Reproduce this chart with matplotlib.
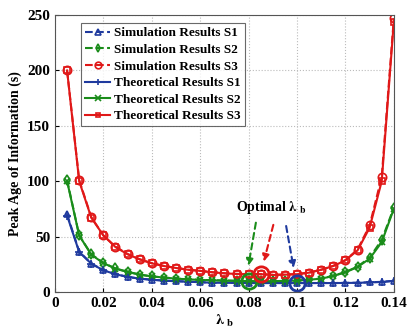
import matplotlib
matplotlib.use('Agg')
import matplotlib.pyplot as plt
import numpy as np

plt.rcParams['font.family'] = ['Liberation Serif', 'DejaVu Serif']
plt.rcParams['font.weight'] = 'bold'
plt.rcParams['mathtext.fontset'] = 'stix'

lam = [0.005, 0.01, 0.015, 0.02, 0.025, 0.03, 0.035, 0.04, 0.045, 0.05,
       0.055, 0.06, 0.065, 0.07, 0.075, 0.08, 0.085, 0.09, 0.095, 0.1,
       0.105, 0.11, 0.115, 0.12, 0.125, 0.13, 0.135, 0.14]

theo_s1 = [69, 36, 25.5, 19.5, 16, 13.5, 12, 11, 10.2, 9.6,
           9.3, 8.7, 8.3, 8.2, 8.1, 8.0, 8.0, 8.0, 8.0, 8.0,
           8.0, 8.0, 8.0, 8.1, 8.2, 8.6, 9.0, 10]
theo_s2 = [100, 51, 33.6, 26, 21, 18, 15.6, 14, 13, 12,
           11.4, 10.8, 10.5, 10.2, 10, 9.6, 9.6, 9.6, 10, 10.2,
           11, 12, 14.4, 17.7, 22.5, 30, 45, 75]
theo_s3 = [200, 100, 67, 51, 40.5, 34, 29.4, 25.8, 23.4, 21.6,
           20, 19, 17.7, 16.8, 16.2, 16, 16, 15.3, 15.6, 16,
           17.4, 20, 23.4, 28.5, 37.5, 58, 100, 244]

sim_s1 = [70, 36.5, 25.5, 19.8, 16.2, 13.6, 12, 11, 10.3, 9.7,
          9.3, 8.8, 8.4, 8.2, 8.1, 8.1, 8.0, 8.1, 8.0, 8.1,
          8.0, 8.1, 8.0, 8.2, 8.3, 8.7, 9.1, 10]
sim_s2 = [101, 51, 34, 26.2, 21.2, 18.2, 15.7, 14, 13, 12.1,
          11.5, 10.9, 10.5, 10.3, 10, 9.7, 9.6, 9.7, 10, 10.3,
          11.1, 12.1, 14.6, 18, 22.8, 31, 47, 76]
sim_s3 = [200, 101, 67.5, 51, 40.8, 34.3, 29.5, 26, 23.5, 21.7,
          20.1, 19, 17.8, 16.9, 16.3, 16.1, 16.1, 15.5, 15.7, 16.1,
          17.5, 20.1, 23.6, 28.8, 38.2, 60, 104, 247]

blue = '#1f3a9e'
green = '#1a8c1a'
red = '#e01818'

fig = plt.figure(figsize=(4.15, 3.28), dpi=100)
ax = fig.add_axes([0.1325, 0.11, 0.8165, 0.844])

ms = 5
ax.plot(lam, sim_s1, '--^', color=blue, lw=1.5, ms=ms, mfc='none', mew=1.2, label='Simulation Results S1')
ax.plot(lam, sim_s2, '--d', color=green, lw=1.5, ms=ms, mfc='none', mew=1.2, label='Simulation Results S2')
ax.plot(lam, sim_s3, '--o', color=red, lw=1.5, ms=ms + 1, mfc='none', mew=1.2, label='Simulation Results S3')
ax.plot(lam, theo_s1, '-+', color=blue, lw=1.5, ms=ms + 1, mew=1.2, label='Theoretical Results S1')
ax.plot(lam, theo_s2, '-x', color=green, lw=1.5, ms=ms, mew=1.2, label='Theoretical Results S2')
ax.plot(lam, theo_s3, '-s', color=red, lw=1.5, ms=ms - 1, mfc='none', mew=1.2, label='Theoretical Results S3')

# optimal points
opt = [(0.08, 9.6, green), (0.085, 16, red), (0.1, 8.0, blue)]
for x, y, c in opt:
    ax.plot([x], [y], 'o', ms=11, mfc='none', mec=c, mew=2)

ax.text(0.0895, 76, r'Optimal $\mathbf{\lambda}_{\ \mathbf{b}}$', ha='center', va='center',
        fontsize=10, fontweight='bold')
arrows = [((0.0832, 65), (0.0797, 21), green),
          ((0.0905, 63), (0.086, 25), red),
          ((0.0953, 62), (0.0988, 19), blue)]
for (x0, y0), (x1, y1), c in arrows:
    ax.annotate('', xy=(x1, y1), xytext=(x0, y0),
                arrowprops=dict(arrowstyle='-|>', color=c, lw=1.5, ls=(0, (3, 2)),
                                mutation_scale=10))

ax.set_xlim(0, 0.14)
ax.set_ylim(0, 250)
ax.set_xticks([0, 0.02, 0.04, 0.06, 0.08, 0.1, 0.12, 0.14])
ax.set_xticklabels(['0', '0.02', '0.04', '0.06', '0.08', '0.1', '0.12', '0.14'])
ax.set_yticks([0, 50, 100, 150, 200, 250])
ax.tick_params(labelsize=11, direction='in', length=3)
for lbl in ax.get_xticklabels() + ax.get_yticklabels():
    lbl.set_fontweight('bold')
ax.grid(True, ls=':', color='#bbbbbb', lw=0.8)
for sp in ax.spines.values():
    sp.set_color('#555555')

ax.set_xlabel(r'$\mathbf{\lambda}_{\ \mathbf{b}}$', fontsize=11, labelpad=2)
ax.set_ylabel('Peak Age of Information (s)', fontsize=10, fontweight='bold', labelpad=4)

leg = ax.legend(loc='upper left', bbox_to_anchor=(0.07, 0.98),
                prop={'weight': 'bold', 'size': 9.5}, fancybox=False, edgecolor='#444444',
                handlelength=1.9, handletextpad=0.3, borderpad=0.3, labelspacing=0.33,
                borderaxespad=0.2, markerscale=0.8)
leg.get_frame().set_linewidth(0.8)

fig.savefig('out.png', dpi=100)
